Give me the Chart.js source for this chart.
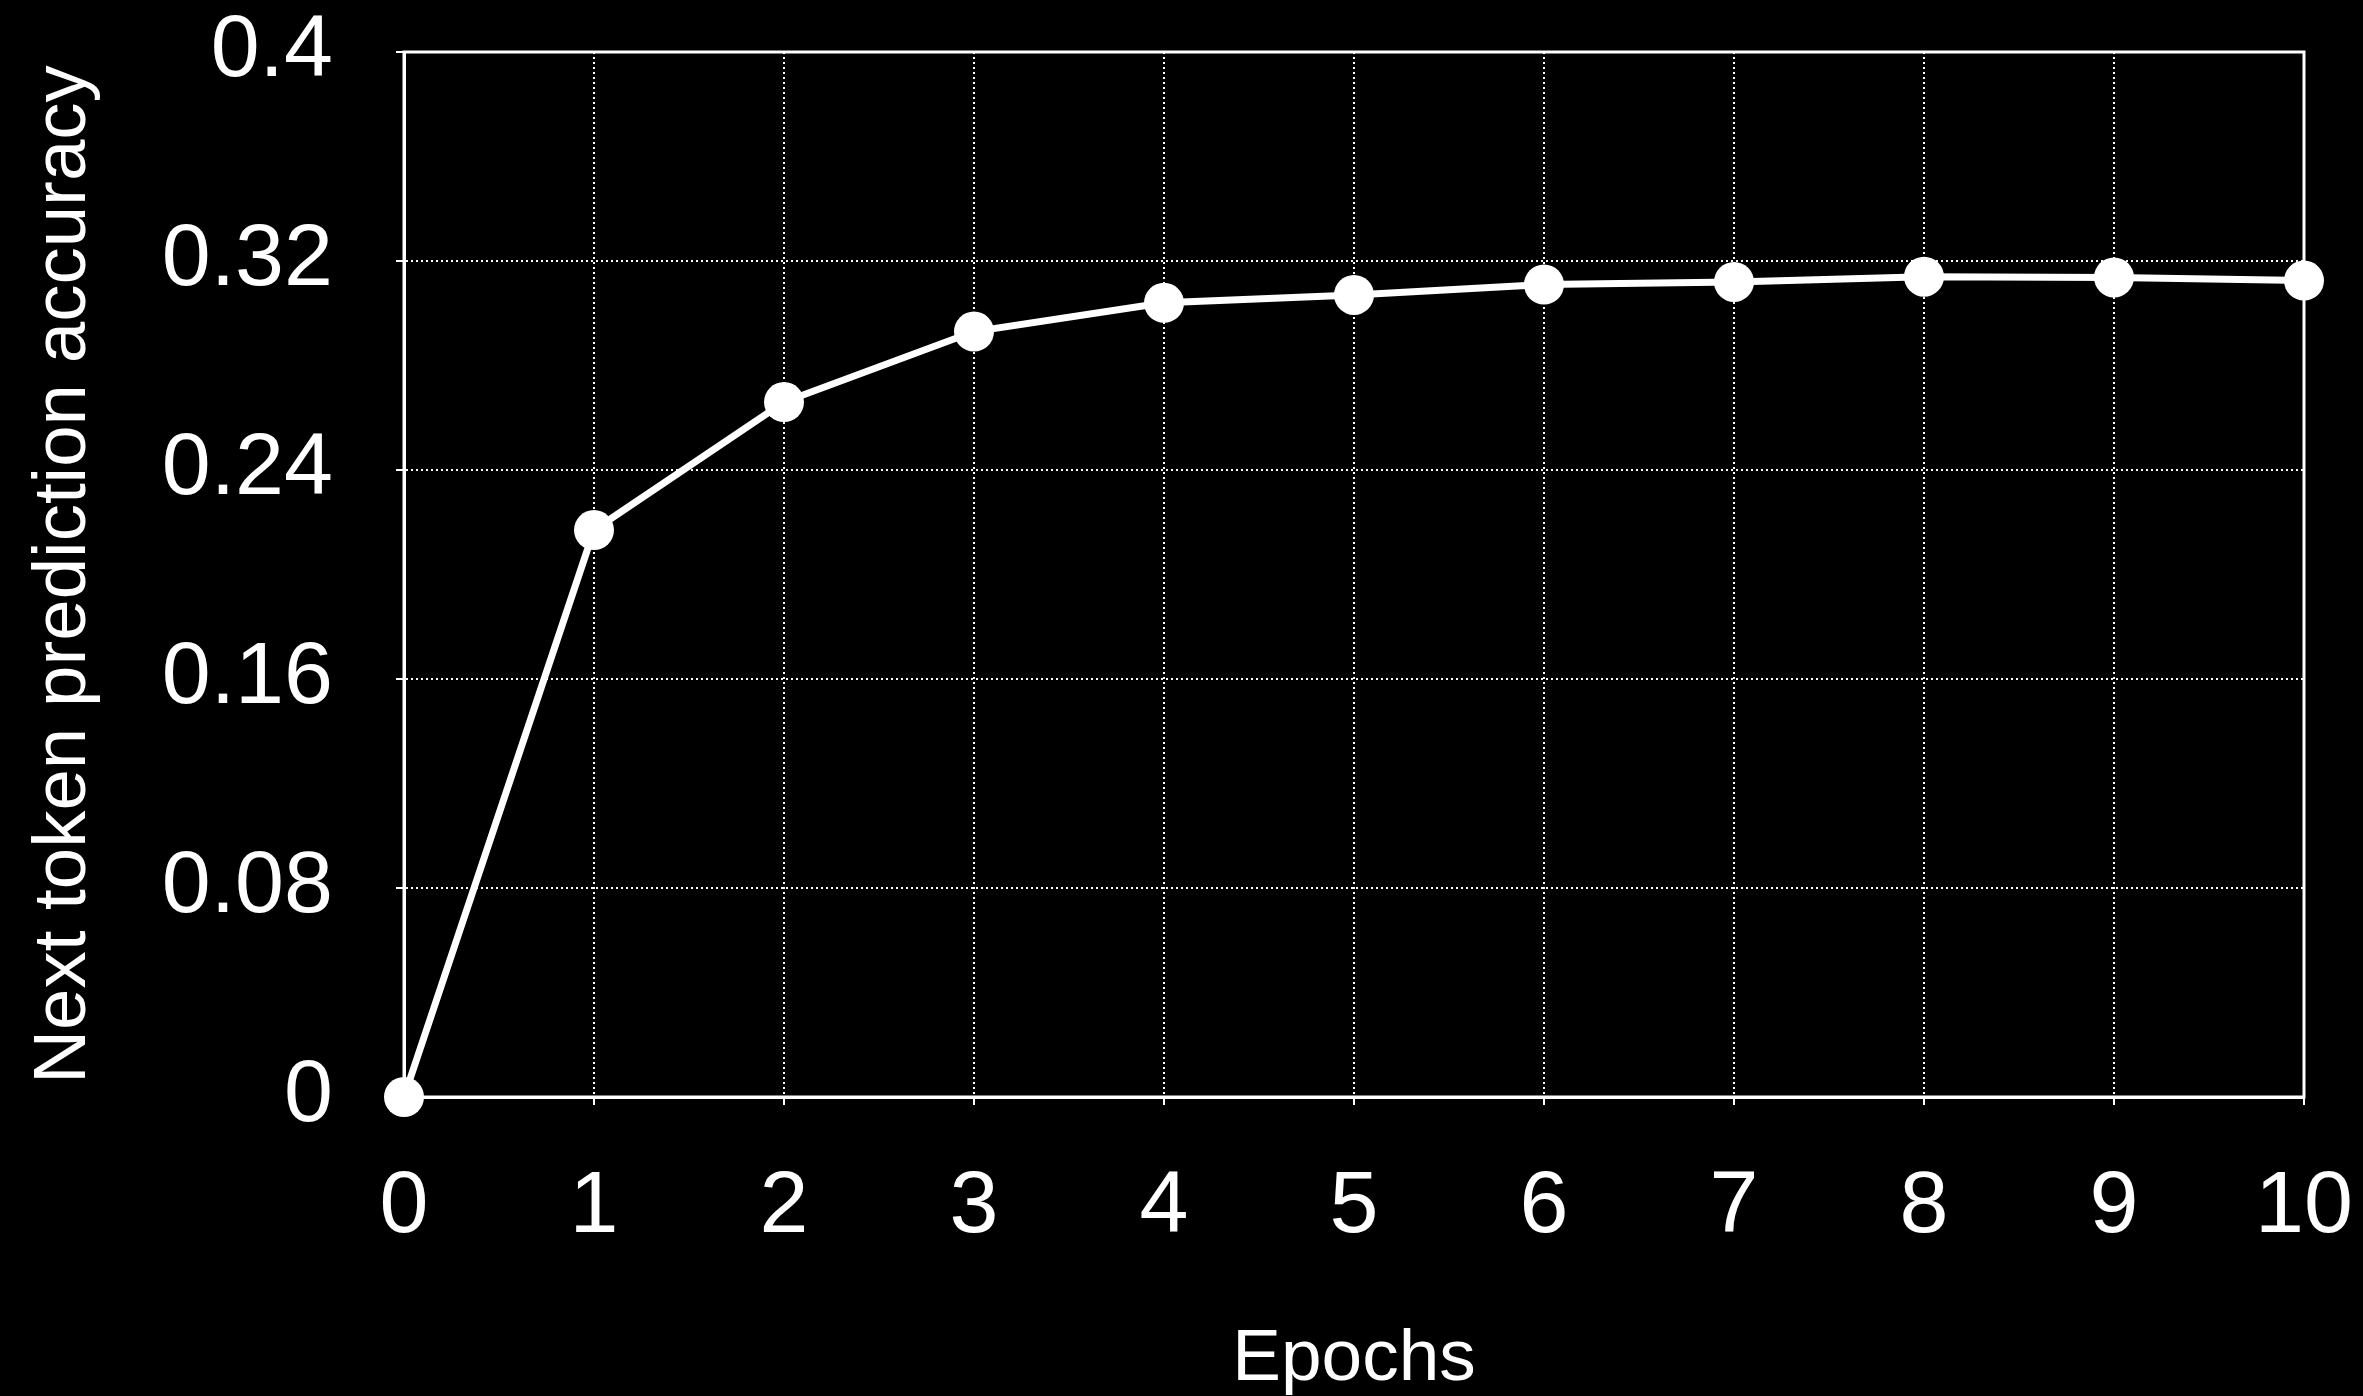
<!DOCTYPE html>
<html>
<head>
<meta charset="utf-8">
<script src="https://cdn.jsdelivr.net/npm/chart.js@4.4.0/dist/chart.umd.min.js"></script>
<style>
  html, body { margin: 0; padding: 0; background: #000; }
  canvas { display: block; }
</style>
</head>
<body>
<canvas id="acc-chart" width="2363" height="1396"></canvas>
<script>
// epochs and next token accuracy
const epochs = [0, 1, 2, 3, 4, 5, 6, 7, 8, 9, 10];
const accuracy = [0, 0.217, 0.266, 0.293, 0.304, 0.307, 0.311, 0.312, 0.314, 0.3137, 0.3125];
const yTickLabels = ['0', '0.08', '0.16', '0.24', '0.32', '0.4'];
const xTitle = 'Epochs';
const yTitle = 'Next token prediction accuracy';

const fontFamily = '"Liberation Sans", Arial, Helvetica, sans-serif';

// box round the plot area (top + right sides too)
const frame = {
	id: 'frame',
	beforeDatasetsDraw(chart) {
		const ctx = chart.ctx;
		const a = chart.chartArea;
		ctx.save();
		ctx.strokeStyle = '#fff';
		ctx.lineWidth = 3;
		ctx.strokeRect(a.left, a.top, a.right - a.left, a.bottom - a.top);
		ctx.restore();
	}
};

const points = [];
for (let i = 0; i < epochs.length; i++) {
	points.push({ x: epochs[i], y: accuracy[i] });
}

Chart.defaults.font.family = fontFamily;
Chart.defaults.color = '#fff';

const gridOpts = {
	color: '#fff',
	lineWidth: 2,
	tickLength: 8,
	tickColor: '#fff',
	tickWidth: 2,
	tickBorderDash: []
};

new Chart(document.getElementById('acc-chart'), {
	type: 'line',
	data: {
		datasets: [{
			data: points,
			borderColor: '#fff',
			borderWidth: 7,
			backgroundColor: '#fff',
			pointRadius: 20,
			pointHoverRadius: 20,
			pointBorderWidth: 0,
			pointBackgroundColor: '#fff',
			tension: 0,
			clip: false
		}]
	},
	options: {
		responsive: false,
		animation: false,
		layout: { padding: { top: 52, right: 59, left: 0, bottom: 0 } },
		plugins: {
			legend: { display: false },
			tooltip: { enabled: false }
		},
		scales: {
			x: {
				type: 'linear',
				min: 0,
				max: 10,
				ticks: {
					stepSize: 1,
					padding: 50,
					font: { size: 88 },
					color: '#fff'
				},
				grid: gridOpts,
				border: { display: true, color: '#fff', width: 3, dash: [2, 3] },
				title: {
					display: true,
					text: xTitle,
					color: '#fff',
					font: { size: 73, lineHeight: 1 },
					padding: { top: 0, bottom: 0 }
				},
				afterFit(scale) {
					scale.height = 299;
					scale.paddingLeft = 0;
					scale.paddingRight = 0;
				}
			},
			y: {
				min: 0,
				max: 0.4,
				ticks: {
					stepSize: 0.08,
					padding: 63,
					font: { size: 88 },
					color: '#fff',
					callback: function (value, index) { return yTickLabels[index]; }
				},
				grid: gridOpts,
				border: { display: true, color: '#fff', width: 3, dash: [2, 3] },
				title: {
					display: true,
					text: yTitle,
					color: '#fff',
					font: { size: 74.5, lineHeight: 1.2 },
					padding: { top: 20, bottom: 0 }
				},
				afterFit(scale) {
					scale.width = 404;
					scale.paddingTop = 0;
					scale.paddingBottom = 0;
				}
			}
		}
	},
	plugins: [frame]
});
</script>
</body>
</html>
